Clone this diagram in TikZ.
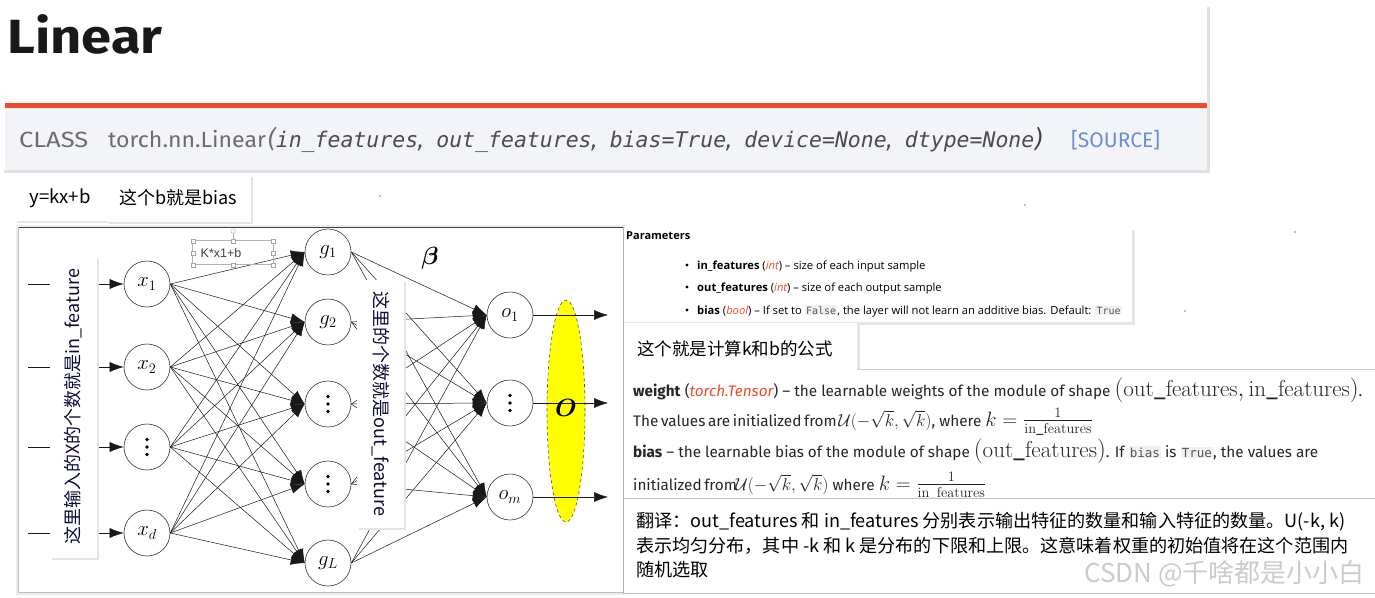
\documentclass[tikz,border=0pt]{standalone}
\usepackage{fontspec}
\usepackage{amsmath}
\usetikzlibrary{arrows.meta,shapes.geometric}
\newfontfamily\cjk{Noto Sans CJK SC}
\newfontfamily\fira{Fira Sans}
\newfontfamily\osans{Open Sans}
\newfontfamily\dmono{DejaVu Sans Mono}
\newfontfamily\lsans{Liberation Sans}
\definecolor{pyred}{HTML}{EE4C2C}
\definecolor{bandgray}{HTML}{F3F4F7}
\definecolor{txtgray}{HTML}{6C6C6D}
\definecolor{srcblue}{HTML}{6C8CD5}
\definecolor{codebg}{HTML}{F0F0F2}
\definecolor{codefg}{HTML}{555555}
\definecolor{navy}{HTML}{0C0C38}
\definecolor{wmgray}{HTML}{CBCBCB}
\definecolor{ylw}{HTML}{FFFF00}
\newcommand\fsz[1]{\fontsize{#1}{#1}\selectfont}
\newcommand\codebx[2]{{\setlength{\fboxsep}{1.2pt}\colorbox{codebg}{\dmono\fsz{#1}\textcolor{codefg}{#2}}}}
\begin{document}
\begin{tikzpicture}[x=1pt,y=-1pt,
  neuron/.style={circle,draw=black!80,line width=0.6pt,minimum size=46pt,inner sep=0pt,fill=white,font=\fsz{22}},
  conn/.style={line width=0.5pt,draw=black!90,-{Latex[length=14pt,width=10pt]}},
  txt/.style={anchor=base west,inner sep=0pt},
  handle/.style={draw=gray!70,fill=white,line width=0.4pt,minimum size=4pt,inner sep=0pt,rectangle}
]
\useasboundingbox (0,0) rectangle (1375,597);
\fill[white] (0,0) rectangle (1375,597);

% ---------- top panel ----------
\fill[black!12] (4,7) rectangle (1210,173);
\fill[white] (2,5) rectangle (1207,170);
\fill[bandgray] (5,108) rectangle (1207,170);
\fill[pyred] (5,102.5) rectangle (1207,107.5);
\node[txt,font=\fira\bfseries\fsz{48},text=black!90] (title) at (7,53) {\scalebox{1.13}[1]{Linear}};
\node[txt,font=\fira\fsz{22},text=txtgray] (cls) at (19,147) {\scalebox{1.16}[1]{CLASS}};
\node[txt,font=\fira\fsz{22},text=txtgray] (tnl) at (108,147) {\scalebox{1.05}[1]{torch.nn.Linear}};
\node[txt,font=\dmono\itshape\fsz{21.5},text=black!70] (args) at (268,147) {{\fira\fsz{24}\color{txtgray}(}in\_features{\fira,} out\_features{\fira,} bias=True{\fira,} device=None{\fira,} dtype=None{\fira\fsz{24}\color{black!75})}};
\node[txt,font=\fira\fsz{21},text=srcblue] (src) at (1071,147) {[SOURCE]};

% ---------- small notes ----------
\fill[black!10] (17,177) rectangle (109,223);
\fill[white] (15,175) rectangle (107,221);
\node[font=\cjk\fsz{18.5}] (ykx) at (60,198) {y=kx+b};
\fill[black!10] (109,177) rectangle (253,224);
\fill[white] (107,175) rectangle (251,222);
\node[font=\cjk\fsz{18}] (bnote) at (178,198) {这个b就是bias};
\fill[black!50] (380,196) circle (0.8);
\fill[black!50] (1025,205) circle (0.8);
\fill[black!50] (1295,232) circle (0.8);
\fill[black!50] (1185,311) circle (0.8);

% ---------- network panel ----------
\fill[black!8] (16,225) rectangle (625,595);
\fill[white] (18,227) rectangle (623,592);
\draw[black!75,line width=0.8pt] (18,227) -- (623,227);
\draw[black!25,line width=0.5pt] (18,227) -- (18,592) -- (623,592) -- (623,227);

\node[neuron] (x1) at (147,284) {$x_1$};
\node[neuron] (x2) at (147,367) {$x_2$};
\node[neuron] (x3) at (147,447) {};
\node[neuron] (xd) at (147,533) {$x_d$};

\node[neuron] (g1) at (328,252) {$g_1$};
\node[neuron] (g2) at (328,322) {$g_2$};
\node[neuron] (g3) at (328,404) {};
\node[neuron] (g4) at (328,484) {};
\node[neuron] (gL) at (328,563) {$g_L$};

\node[neuron] (o1) at (510,315) {$o_1$};
\node[neuron] (o2) at (510,403) {};
\node[neuron] (om) at (510,497) {$o_m$};

\foreach \n in {x3,g3,g4,o2} {
  \fill (\n) circle (1.9);
  \fill ([yshift=-7.5pt]\n.center) circle (1.9);
  \fill ([yshift=7.5pt]\n.center) circle (1.9);
}

\coordinate (in1) at (28,284);
\coordinate (in2) at (28,367);
\coordinate (in3) at (28,447);
\coordinate (in4) at (28,533);
\draw[conn] (in1) -- (x1.west);
\draw[conn] (in2) -- (x2.west);
\draw[conn] (in3) -- (x3.west);
\draw[conn] (in4) -- (xd.west);

\foreach \a in {x1,x2,x3,xd}
  \foreach \b in {g1,g2,g3,g4,gL}
    \draw[conn] (\a.east) -- (\b.west);
\foreach \a in {g1,g2,g3,g4,gL}
  \foreach \b in {o1,o2,om}
    \draw[conn] (\a.east) -- (\b.west);

\node[ellipse,draw=black!70,dashed,line width=0.6pt,fill=ylw,minimum width=38pt,minimum height=222pt,inner sep=0pt] (O) at (566,411) {};
\coordinate (out1) at (608,315);
\coordinate (out2) at (608,403);
\coordinate (out3) at (608,497);
\draw[conn] (o1.east) -- (out1);
\draw[conn] (o2.east) -- (out2);
\draw[conn] (om.east) -- (out3);
\node[font=\fsz{24}] (Olab) at (566,408) {$\boldsymbol{O}$};
\node[font=\fsz{24}] (beta) at (430,258) {$\boldsymbol{\beta}$};

% vertical notes
\fill[black!10] (52,258) rectangle (99,560);
\fill[white] (50,256) rectangle (97,558);
\node[rotate=90,font=\cjk\fsz{18},text=navy] (vin) at (73.5,407) {这里输入的X的个数就是in\_feature};
\fill[black!10] (359,282) rectangle (406,530);
\fill[white] (357,280) rectangle (404,528);
\node[rotate=-90,font=\cjk\fsz{18},text=navy] (vout) at (380.5,404) {这里的个数就是out\_feature};

% selection box K*x1+b
\draw[gray!60,line width=0.5pt] (192.7,240.7) rectangle (273.3,264.7);
\draw[gray!60,line width=0.5pt] (233,233) -- (233,240.7);
\draw[gray!60,fill=white,line width=0.4pt] (233,231) circle (2.3);
\foreach \p in {(192.7,240.7),(233,240.7),(273.3,240.7),(192.7,252.7),(273.3,252.7),(192.7,264.7),(233,264.7),(273.3,264.7)}
  \node[handle] at \p {};
\node[font=\lsans\fsz{12.5},text=black!75] (kx) at (221,253) {K*x1+b};

% ---------- parameters panel ----------
\fill[black!10] (625,230) rectangle (1135,325);
\fill[white] (623,228) rectangle (1132,322);
\node[txt,font=\osans\bfseries\fsz{11}] (ptitle) at (626,239) {Parameters};
\fill (687,265) circle (1.7);
\fill (687,287) circle (1.7);
\fill (687,310) circle (1.7);
\node[txt,font=\osans\fsz{11.2}] (p1) at (697,269) {\textbf{in\_features} (\textcolor{pyred}{\itshape int}) – size of each input sample};
\node[txt,font=\osans\fsz{11.2}] (p2) at (697,291) {\textbf{out\_features} (\textcolor{pyred}{\itshape int}) – size of each output sample};
\node[txt,font=\osans\fsz{11.2}] (p3) at (697,314) {\textbf{bias} (\textcolor{pyred}{\itshape bool}) – If set to \codebx{10}{False}, the layer will not learn an additive bias. Default: \codebx{10}{True}};

% formula note
\fill[black!10] (625,325) rectangle (860,372);
\fill[white] (623,323) rectangle (857,369);
\node[txt,font=\cjk\fsz{17.5}] (fnote) at (637,355) {这个就是计算k和b的公式};

% ---------- weight panel ----------
\fill[white] (623,369) rectangle (1375,497);
\draw[black!20,line width=0.6pt] (857,369) -- (1375,369);
\node[txt,font=\fira\fsz{15.3},text=black!85] (w1) at (633,396) {\textbf{weight} (\textcolor{pyred}{\itshape torch.Tensor}) – the learnable weights of the module of shape {\fsz{23}$(\mathrm{out\_features},\mathrm{in\_features})$}.};
\node[txt,font=\fira\fsz{15.3},text=black!85] (w2) at (633,426) {\makebox[201pt][s]{The values are initialized from} {\fsz{19}$\mathcal{U}(-\sqrt{k},\sqrt{k})$}, where {\fsz{20.5}$k=\frac{1}{\mathrm{in\_features}}$}};
\node[txt,font=\fira\fsz{15.3},text=black!85] (w3) at (633,457) {\textbf{bias} – the learnable bias of the module of shape {\fsz{23}$(\mathrm{out\_features})$}. If \codebx{12.5}{bias} is \codebx{12.5}{True}, the values are};
\node[txt,font=\fira\fsz{15.3},text=black!85] (w4) at (633,490) {\makebox[98pt][s]{initialized from} {\fsz{19}$\mathcal{U}(-\sqrt{k},\sqrt{k})$} where {\fsz{20.5}$k=\frac{1}{\mathrm{in\_features}}$}};

% ---------- translation panel ----------
\fill[white] (623,498) rectangle (1375,593);
\draw[black!25,line width=0.6pt] (623,498) -- (1375,498);
\draw[black!25,line width=0.6pt] (623,593) -- (1375,593);
\draw[black!30,line width=0.6pt] (623,228) -- (623,593);
\node[txt,font=\cjk\fsz{18.1}] (t1) at (636,527) {翻译：out\_features 和 in\_features 分别表示输出特征的数量和输入特征的数量。U(-k, k)};
\node[txt,font=\cjk\fsz{18.1}] (t2) at (636,552) {表示均匀分布，其中 -k 和 k 是分布的下限和上限。这意味着权重的初始值将在这个范围内};
\node[txt,font=\cjk\fsz{18.1}] (t3) at (636,576) {随机选取};
\node[txt,font=\cjk\fsz{26},text=wmgray] (wm) at (1084,582) {CSDN @千啥都是小小白};
\end{tikzpicture}
\end{document}
